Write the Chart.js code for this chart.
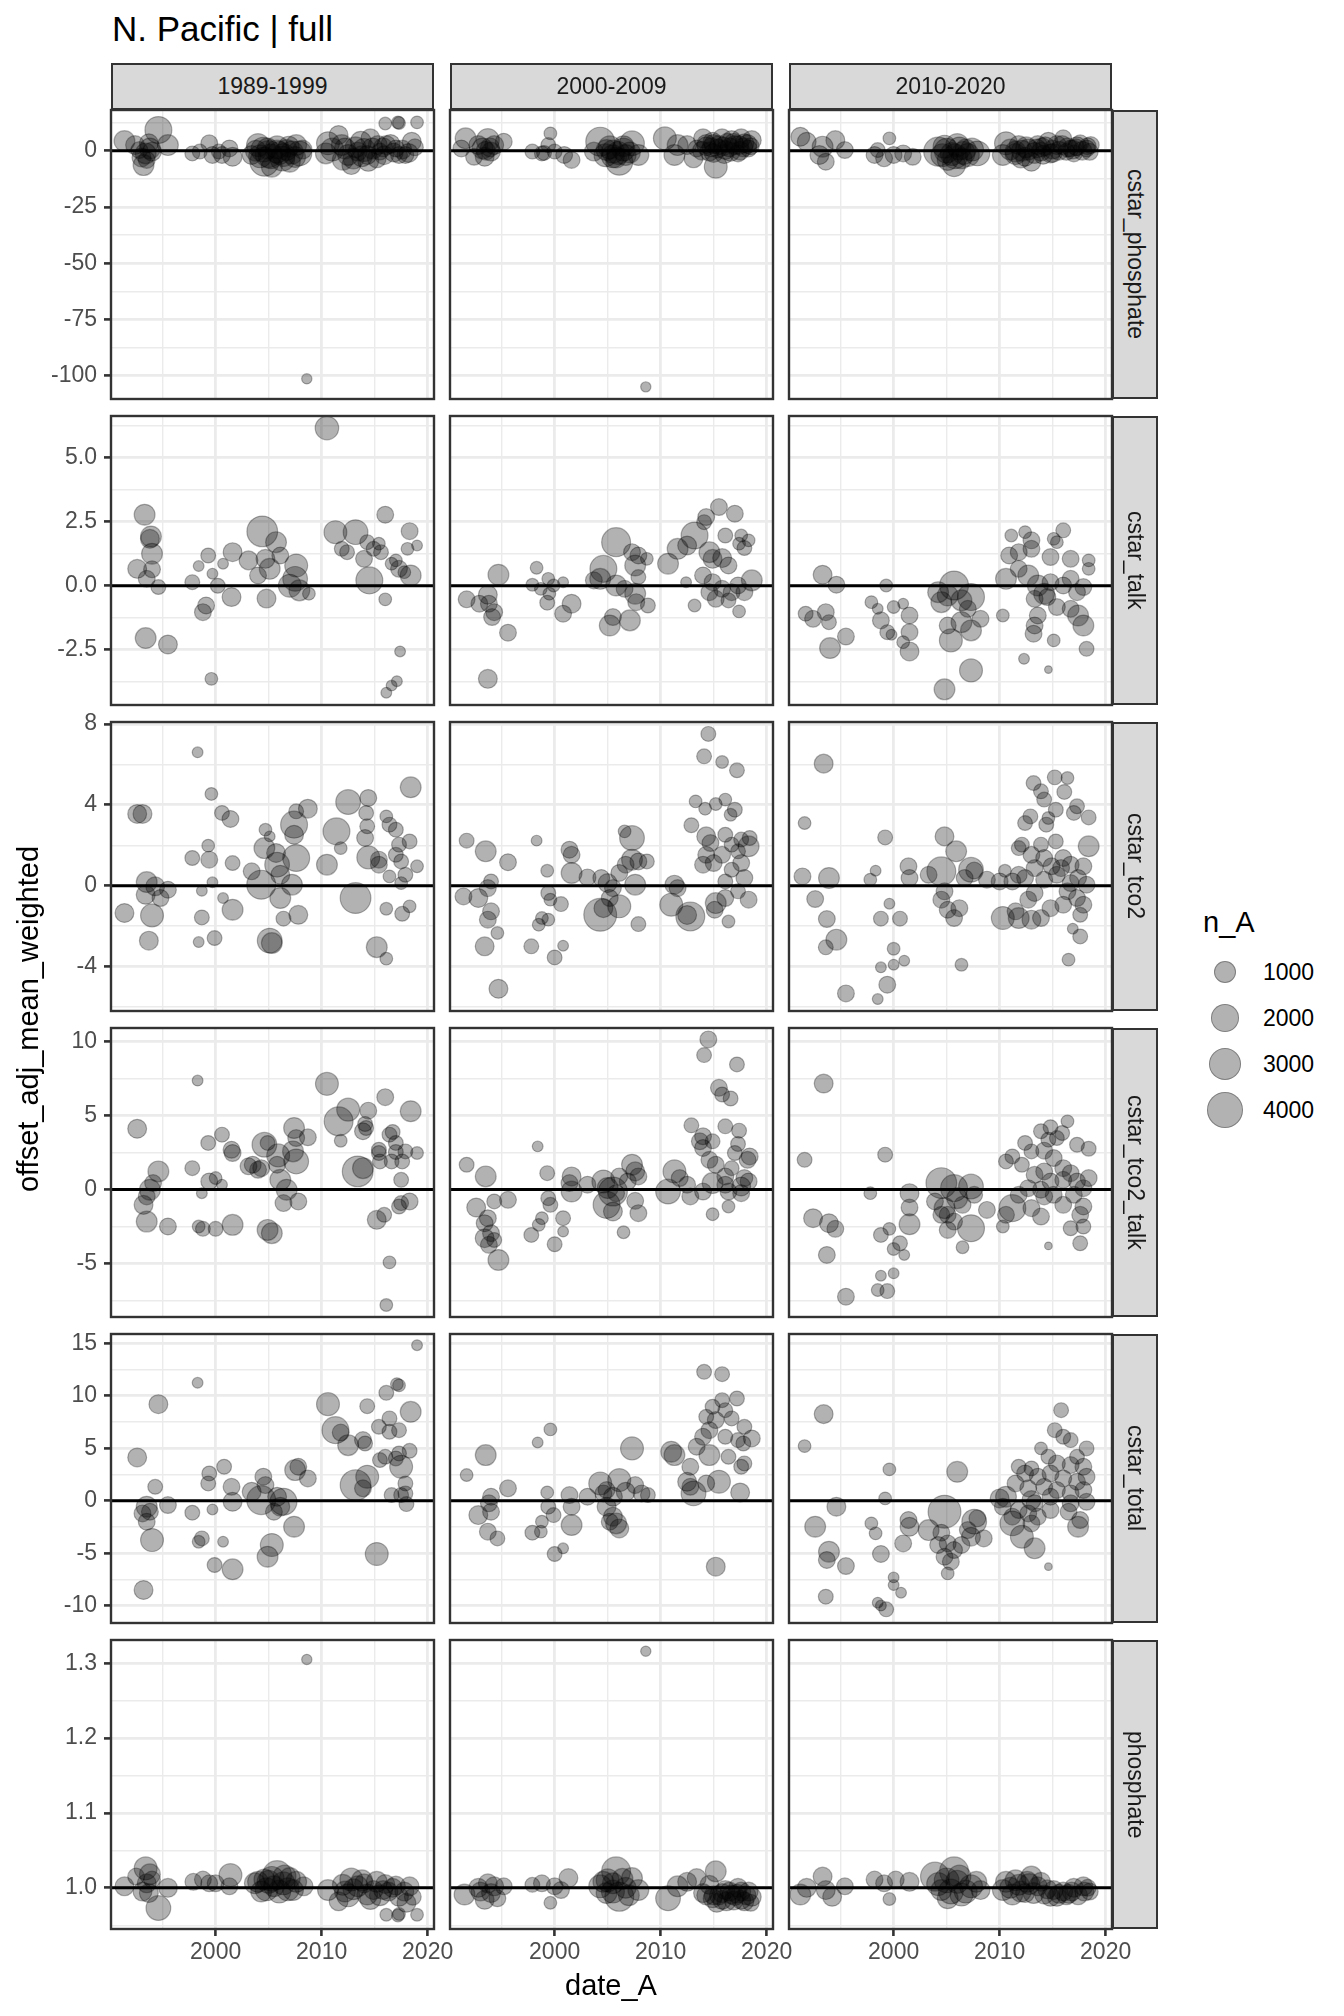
<!DOCTYPE html>
<html><head><meta charset="utf-8">
<script src="https://cdn.jsdelivr.net/npm/chart.js@4.4.1/dist/chart.umd.min.js"></script>
<style>
body{margin:0;background:#fff;width:1344px;height:2016px;position:relative;overflow:hidden;font-family:'Liberation Sans',Arial,sans-serif}
.t{position:absolute;white-space:nowrap}
.strip{position:absolute;box-sizing:border-box;background:#D9D9D9;border:2px solid #333;display:flex;align-items:center;justify-content:center;color:#1A1A1A;font-size:23px}
.vs{writing-mode:vertical-rl}
canvas{position:absolute}
.key{position:absolute;border-radius:50%;box-sizing:border-box;background:rgba(0,0,0,0.3);border:1.3px solid rgba(0,0,0,0.3)}
</style></head><body>
<script>
// ---------- DATA: [date_A, offset_adj_mean_weighted, n_A] ----------
const facetCols = ["1989-1999","2000-2009","2010-2020"];
const facetRows = ["cstar_phosphate","cstar_talk","cstar_tco2","cstar_tco2_talk","cstar_total","phosphate"];

const cstar_phosphate_1989_1999 = [[1991.4,4.3,1000],[1992.4,2.5,750],[1993.7,3.3,750],[1993.4,-1.2,1000],[1993.5,-4.1,530],[1993.2,-6.4,1000],[1994.6,9.2,2000],[1995.5,2.5,1000],[1994.0,-0.4,750],[1992.8,0.3,530],
[1997.8,-1.2,350],[1998.5,-0.4,350],[1999.4,3.3,530],[1999.7,-1.9,530],[2000.6,-1.9,530],[2001.6,-2.7,750],[2001.3,1.0,530],[2000.3,-0.4,350],
[2004.0,2.5,1300],[2004.6,-4.9,2400],[2005.8,-0.4,1300],[2005.3,-7.1,1000],[2006.4,-1.9,1300],[2007.6,2.5,1000],[2007.9,-1.2,1600],[2007.0,-4.9,1000],[2003.4,-1.9,750],[2004.9,1.0,1000],[2006.7,0.3,1000],[2005.2,-2.5,1600],[2006.0,-1.0,1300],
[2004.5,0.5,1600],[2005.0,-1.5,2000],[2005.8,1.5,1300],[2006.3,-3.5,1600],[2007.2,-0.8,1300],[2007.5,-2.8,1000],[2004.2,-2.5,1300],[2006.9,1.8,1000],[2003.8,0.0,1000],[2008.2,0.5,750],
[2008.6,-101.4,80],
[2010.6,3.3,1300],[2011.9,2.5,1000],[2011.6,7.0,750],[2012.5,-1.9,1000],[2012.8,-6.4,750],[2013.7,4.0,1000],[2014.0,0.3,1300],[2014.6,5.5,750],[2015.2,-3.4,750],[2016.1,2.5,750],[2017.0,1.0,530],[2017.9,-1.9,530],[2018.5,4.0,750],[2016.0,12.1,200],[2017.2,12.6,200],[2017.3,12.3,200],[2019.0,12.6,200],[2010.4,-1.2,1000],[2013.4,-0.4,750],[2015.5,-0.4,530],[2017.3,-1.9,530],[2014.3,-1.9,750],[2013.0,-3.5,1000],[2015.8,1.5,750],[2016.8,-0.8,750],
[2011.0,0.5,1300],[2012.2,1.0,1000],[2013.2,1.5,1000],[2013.8,-2.5,1000],[2014.8,1.0,1000],[2015.3,2.5,750],[2015.9,-2.0,750],[2016.5,3.0,750],[2017.6,0.5,750],[2018.2,-1.0,750],[2018.8,1.5,530],[2014.4,-4.5,1000],[2012.0,-4.0,1000],[1993.8,1.0,1000],[1993.0,-3.0,750]];
const cstar_phosphate_2000_2009 = [[1991.6,5.5,1000],[1992.8,2.5,750],[1993.7,4.7,1300],[1994.0,-0.4,750],[1993.4,-2.7,750],[1995.2,4.0,530],[1992.4,-2.7,530],[1991.2,1.0,530],[1993.9,1.5,750],
[1999.6,7.7,200],[1997.9,-0.4,350],[1998.8,-1.2,350],[2000.0,-0.4,350],[2000.9,-1.9,530],[2001.6,-4.1,530],[1999.4,2.5,350],[1999.0,-1.0,350],
[2004.3,4.0,2400],[2005.5,-0.4,1300],[2006.1,-4.9,2000],[2004.9,0.3,1000],[2007.3,3.3,1600],[2007.9,-1.9,1000],[2006.7,-1.9,1000],[2003.7,-0.4,750],[2005.5,-2.5,1300],[2006.5,0.5,1300],
[2004.8,-2.0,1300],[2005.2,1.5,1300],[2006.0,-1.0,1300],[2006.5,2.0,1000],[2007.1,-0.8,1000],[2005.8,-3.0,1000],[1993.2,1.0,1000],[1994.3,2.5,750],[1993.5,0.0,750],
[2008.6,-105,80],
[2010.4,5.5,1300],[2011.6,2.5,1000],[2011.3,-1.9,1000],[2013.1,-3.4,750],[2012.5,2.5,750],[2015.2,-7.1,1300],[2014.0,5.5,750],[2014.9,4.0,750],[2015.8,5.5,750],[2016.7,4.7,750],[2017.6,5.5,750],[2018.6,4.7,750],[2018.3,1.0,530],[2017.3,-1.2,530],[2016.1,0.3,750],[2014.6,-0.4,750],[2015.5,2.5,750],[2013.4,1.0,530],[2017.0,2.5,750],[2017.9,3.3,750],[2015.0,3.0,750],[2016.3,3.5,750],[2014.3,3.0,750],
[2014.3,2.0,750],[2014.8,1.5,750],[2015.4,1.0,750],[2015.9,2.0,750],[2016.5,1.5,750],[2016.9,3.5,750],[2017.4,2.5,750],[2017.8,1.5,750],[2018.2,3.0,750],[2018.5,2.0,530],[2013.9,0.0,750],[2015.0,-1.0,750],[2016.0,-1.5,750],[2016.6,-0.5,750],[2017.5,0.0,750]];
const cstar_phosphate_2010_2020 = [[1991.2,6.2,750],[1991.8,4.0,750],[1993.3,1.8,1000],[1993.0,-1.9,750],[1993.6,-4.9,530],[1994.5,4.7,750],[1995.4,0.3,530],
[1999.6,5.5,200],[1998.2,-1.9,530],[1999.1,-3.4,530],[2000.0,-1.9,530],[2000.9,-1.2,530],[2001.8,-2.7,530],[1998.5,0.3,350],
[2004.2,-0.4,2400],[2004.8,1.8,1300],[2006.0,2.5,1300],[2005.7,-6.4,1300],[2007.0,-1.9,1300],[2007.9,-1.2,1600],[2005.1,-4.1,1000],[2006.4,-3.4,1000],[2005.5,-1.5,1300],[2006.8,0.5,1000],
[2005.0,0.0,1600],[2005.8,-2.5,1600],[2006.6,-1.0,1300],[2007.4,0.5,1300],[2004.6,-2.0,1300],[2006.2,1.0,1300],
[2010.6,3.3,1300],[2010.3,-1.9,1000],[2011.5,-0.4,1000],[2012.4,-2.7,750],[2013.0,-4.9,750],[2013.6,2.5,750],[2014.6,4.0,750],[2015.4,2.5,750],[2016.0,5.5,530],[2016.7,1.0,530],[2017.6,3.3,530],[2018.2,1.0,530],[2014.8,-1.2,750],[2017.0,-1.2,530],[2011.8,2.5,750],[2013.9,-0.4,750],[2012.0,-3.5,750],[2014.0,1.5,750],[2015.0,0.5,750],[2016.3,-0.5,530],[2017.2,1.5,530],[2018.6,2.5,530],[2012.7,0.5,1000],
[2011.0,0.5,1000],[2011.5,-1.5,1000],[2012.1,0.0,1000],[2012.5,1.5,1000],[2013.3,-1.0,1000],[2013.5,1.0,750],[2014.1,-1.8,750],[2014.3,2.0,750],[2015.0,-1.0,750],[2015.6,0.0,750],[2015.9,2.5,750],[2016.4,1.5,750],[2016.9,0.5,750],[2017.3,2.0,750],[2017.8,0.0,750],[2018.3,2.0,530],[2018.5,-0.5,530]];

const cstar_talk_1989_1999 = [[2010.5,6.15,1400],[1993.3,2.77,1000],[1993.9,1.92,1000],[1993.8,1.83,750],[1994.0,1.25,1000],[1992.6,0.66,750],[1994.0,0.64,530],[1993.5,0.27,530],[1994.6,-0.05,350],[1993.4,-2.04,1000],[1995.5,-2.29,750],[1999.6,-3.63,200],
[1997.8,0.14,350],[1998.4,0.77,100],[1999.3,1.18,350],[1999.7,0.47,100],[2000.7,0.86,100],[2000.2,0.0,350],[2001.6,1.31,750],[2001.5,-0.44,750],[1999.1,-0.77,530],[1998.8,-1.03,530],
[2003.1,0.99,750],[2004.4,2.12,2800],[2004.7,1.05,750],[2005.7,1.7,1000],[2005.1,0.66,1000],[2006.1,1.18,530],[2007.6,0.79,1300],[2007.5,0.27,1600],[2007.0,0.0,1300],[2004.8,-0.5,750],[2008.8,-0.31,200],[2007.9,-0.18,1000],[2004.0,0.4,530],
[2011.3,2.09,1300],[2013.2,2.09,1600],[2012.4,1.31,350],[2011.9,1.44,350],[2014.3,1.7,350],[2014.9,1.44,350],[2015.6,1.31,350],[2014.0,1.05,530],[2014.5,0.21,2000],[2016.0,2.77,530],[2018.3,2.13,530],[2019.0,1.57,100],[2018.1,1.44,200],[2017.0,0.99,200],[2017.3,0.66,530],[2018.4,0.4,1000],[2017.8,0.53,200],[2016.0,-0.53,200],[2017.4,-2.56,100],[2017.1,-3.72,100],[2016.6,-3.89,100],[2016.1,-4.17,100],[2016.6,0.86,200],[2015.4,1.64,200]];
const cstar_talk_2000_2009 = [[1993.7,-3.63,750],[1995.6,-1.83,530],[1994.7,0.43,1000],[1991.7,-0.53,530],[1992.9,-0.7,530],[1993.7,-0.35,750],[1993.8,-0.7,530],[1994.3,-1.03,530],[1994.1,-1.22,530],
[1998.3,0.7,200],[1997.9,0.04,200],[1998.7,-0.12,200],[1999.4,0.27,200],[1999.5,-0.31,200],[1999.9,0.01,200],[1999.3,-0.66,350],[2000.8,0.14,100],[2001.6,-0.7,750],[2000.8,-1.09,530],
[2003.7,0.21,530],[2005.8,1.7,2400],[2004.6,0.66,2000],[2004.3,0.27,1000],[2005.8,0.01,1000],[2006.6,-0.12,530],[2007.6,0.79,1000],[2007.3,1.31,530],[2007.9,1.18,530],[2008.7,1.05,200],[2007.9,0.34,350],[2007.6,-0.31,1000],[2007.7,-0.64,530],[2008.8,-0.77,350],[2005.2,-1.55,1000],[2007.1,-1.35,1000],[2005.5,-1.22,530],
[2010.7,0.86,1000],[2011.6,1.44,1000],[2012.5,1.57,750],[2013.2,1.96,2000],[2012.4,0.14,100],[2013.2,-0.77,200],[2014.3,2.68,530],[2015.5,3.07,530],[2017.0,2.81,530],[2014.1,2.48,350],[2016.1,1.96,350],[2017.6,1.96,200],[2018.3,1.77,200],[2017.9,1.47,350],[2017.4,1.64,200],
[2014.6,1.31,1000],[2014.9,1.05,750],[2015.8,1.08,750],[2016.4,0.79,530],[2014.0,0.4,530],[2014.9,0.14,530],[2015.8,-0.12,530],[2014.6,-0.25,530],[2015.2,-0.51,530],[2016.7,-0.25,530],[2017.3,0.01,530],[2018.6,0.21,1000],[2017.9,-0.25,530],[2017.4,-1.0,200],[2016.4,-0.57,350]];
const cstar_talk_2010_2020 = [[1993.3,0.43,750],[1994.6,0.04,530],[1991.7,-1.09,350],[1992.4,-1.29,530],[1993.6,-1.03,530],[1993.9,-1.42,350],[1994.0,-2.43,1000],[1995.5,-1.98,530],[1999.3,0.01,200],
[1997.9,-0.64,200],[1998.5,-0.9,100],[1998.8,-1.35,530],[1999.4,-1.81,350],[1999.8,-1.91,100],[2000.0,-0.83,200],[2000.9,-0.7,100],[2001.5,-1.16,530],[2001.5,-1.81,530],[2001.5,-2.56,750],[2000.9,-2.2,200],
[2004.2,-0.25,1000],[2004.5,-0.64,1000],[2005.7,0.01,2400],[2005.1,-0.38,1000],[2006.4,-0.57,1000],[2007.3,-0.44,2000],[2007.0,-0.9,530],[2005.1,-1.55,530],[2006.4,-1.42,1000],[2007.3,-1.74,1000],[2005.4,-2.13,1300],[2008.2,-1.29,530],[2007.3,-3.3,1300],[2004.8,-4.04,1000],
[2010.3,-1.16,200],[2011.1,1.96,200],[2012.4,2.09,200],[2013.0,1.77,530],[2016.0,2.16,350],[2015.4,1.7,200],[2015.1,1.83,200],
[2010.9,1.18,530],[2011.8,1.31,530],[2013.0,1.44,530],[2014.8,1.12,530],[2016.7,1.05,530],[2018.4,0.99,200],
[2010.6,0.27,1000],[2011.8,0.66,530],[2012.7,0.4,1000],[2013.6,0.01,1000],[2014.2,-0.31,1000],[2014.8,0.14,530],[2016.0,0.01,530],[2016.7,0.27,530],[2017.3,-0.25,530],[2017.9,-0.05,530],[2018.4,0.66,200],
[2013.3,-0.51,530],[2014.5,-0.44,530],[2015.4,-0.83,530],[2016.7,-0.9,530],[2017.4,-1.16,1000],[2017.9,-1.55,1000],
[2013.3,-1.55,530],[2013.2,-1.87,530],[2013.6,-1.16,530],[2015.1,-2.13,200],[2018.2,-2.46,350],[2012.3,-2.85,100],[2014.6,-3.27,10]];

const cstar_tco2_1989_1999 = [[1998.3,6.6,100],[1999.6,4.54,200],[1992.6,3.55,750],[1993.1,3.55,750],[2000.6,3.6,350],[2001.4,3.3,530],[1999.3,1.98,200],[1997.8,1.37,350],[1999.4,1.29,530],[2001.6,1.12,350],[1999.7,0.17,100],
[1993.5,0.18,1000],[1994.3,-0.03,750],[1993.4,-0.45,750],[1995.5,-0.2,530],[1994.8,-0.61,530],[1991.4,-1.35,750],[1994.0,-1.47,1300],[1993.7,-2.72,750],[1998.4,-2.79,100],[1999.9,-2.59,350],
[1998.7,-0.25,100],[2000.7,-0.61,100],[1998.7,-1.57,350],[2001.6,-1.19,1000],
[2004.3,0.05,2400],[2003.4,0.71,530],[2004.6,1.86,1000],[2004.7,2.77,200],[2005.1,2.44,100],[2005.8,1.04,1600],[2006.1,0.54,750],[2005.7,1.62,750],[2007.4,3.02,2000],[2007.6,3.68,350],[2008.7,3.81,750],[2007.4,2.52,750],[2007.6,1.37,2000],[2007.2,0.05,1000],[2006.1,-0.61,1000],
[2005.1,-2.72,1600],[2005.3,-2.84,1000],[2006.4,-1.63,350],[2007.8,-1.44,750],
[2010.5,1.04,1000],[2011.4,2.69,2000],[2011.8,1.86,200],[2012.5,4.14,1600],[2013.2,-0.61,2800],
[2014.4,4.34,530],[2014.2,3.6,350],[2014.3,2.94,350],[2014.1,2.36,530],[2014.4,1.4,1300],[2016.1,3.43,200],[2016.4,3.02,350],[2017.0,2.77,350],[2017.3,2.03,350],[2017.0,1.53,350],[2018.4,4.87,1000],[2018.3,2.19,350],[2017.5,1.2,350],[2019.0,0.96,200],[2016.4,0.46,200],[2017.9,0.54,350],[2017.5,0.13,200],[2015.4,1.29,530],[2015.4,1.04,530],[2016.1,-1.14,200],[2017.6,-1.39,350],[2018.3,-1.02,200],[2015.2,-3.04,1000],[2016.1,-3.61,200]];
const cstar_tco2_2000_2009 = [[2014.5,7.51,350],[2014.1,6.4,350],[2015.8,6.12,200],[2017.2,5.71,350],[2013.3,4.17,200],[2014.2,3.81,200],[2015.2,4.04,200],[2016.1,4.26,200],[2017.0,3.76,350],[2016.6,3.51,200],[2012.9,2.99,350],
[2014.3,2.44,750],[2014.7,2.11,530],[2016.1,2.52,350],[2016.7,2.03,350],[2017.6,2.28,350],[2018.4,2.36,350],[2018.3,1.95,1000],[2017.3,1.7,350],[2014.3,1.53,530],[2015.8,1.53,530],[2014.0,1.04,530],[2015.0,1.12,530],[2017.6,1.12,530],[2016.7,0.79,350],[2017.9,0.38,530],[2016.1,0.21,350],
[2011.3,0.05,750],[2011.6,-0.12,530],[2011.0,-0.94,1300],[2012.8,-1.52,2400],[2012.5,-1.45,750],
[2015.2,-0.86,1000],[2016.1,-0.61,530],[2015.1,-1.19,530],[2016.4,-1.77,200],[2018.3,-0.69,530],[2017.3,-0.28,350],
[1991.7,2.23,350],[1993.5,1.7,1000],[1995.6,1.16,530],[1994.0,0.21,350],[1993.7,-0.12,530],[1991.4,-0.53,530],[1992.8,-0.61,750],[1994.0,-1.27,530],[1993.7,-1.68,530],[1994.6,-2.34,200],[1993.4,-3.0,750],[1994.7,-5.1,750],
[1998.3,2.23,100],[1999.3,0.74,200],[1999.4,-0.36,350],[1999.6,-0.69,200],[2000.6,-0.91,350],[1998.8,-1.6,200],[1998.5,-1.93,200],[1999.4,-1.68,200],[1997.8,-3.0,350],[2000.8,-2.97,100],[2000.0,-3.55,350],
[2001.4,1.78,530],[2001.6,1.53,530],[2001.6,0.63,1000],[2003.1,0.41,530],
[2004.4,0.38,530],[2005.0,0.13,750],[2005.5,-0.12,530],[2004.6,-1.11,750],[2004.3,-1.44,3300],[2006.1,-1.02,1300],[2005.2,-0.61,530],
[2006.6,2.69,200],[2007.3,2.36,1600],[2007.3,1.29,1000],[2007.9,1.2,530],[2008.7,1.2,350],[2006.7,1.04,530],[2007.6,0.05,1000],[2006.1,0.63,530],[2007.9,-1.9,350]];
const cstar_tco2_2010_2020 = [[1993.4,6.04,750],[1991.6,3.1,200],[1991.4,0.46,530],[1993.9,0.38,1000],[1992.6,-0.66,530],[1993.7,-1.65,530],[1994.6,-2.67,1000],[1993.6,-3.05,350],[1995.5,-5.33,530],[1998.5,-5.61,100],[1999.4,-4.9,530],[1998.8,-4.04,100],[2000.0,-3.91,100],[2001.0,-3.71,100],[2000.0,-3.12,200],
[1999.2,2.39,350],[1998.3,0.74,100],[1997.8,0.3,200],[1999.6,-0.89,100],[1998.8,-1.63,350],[2000.6,-1.63,350],
[2001.4,0.96,530],[2001.5,0.38,530],[2003.3,0.54,530],[2004.5,0.71,2400],[2004.8,2.44,750],[2005.9,1.7,1000],[2007.3,0.79,1600],[2007.6,0.75,530],[2008.8,0.3,530],[2006.7,0.38,530],[2004.8,-0.28,530],[2004.5,-0.69,530],[2005.1,-1.19,530],[2005.7,-1.6,530],[2006.2,-1.11,530],[2006.4,-3.91,200],
[2010.5,0.74,200],[2010.0,0.21,530],[2011.2,0.21,530],[2011.8,0.54,530],[2010.3,-1.6,1300],[2011.8,-1.6,1000],[2013.0,-1.68,750],[2011.5,-1.27,530],[2012.7,-0.69,530],[2013.3,-0.36,530],
[2013.2,5.08,350],[2015.2,5.36,350],[2016.4,5.33,200],[2016.1,4.64,350],[2013.9,4.67,350],[2014.2,4.26,350],[2012.4,3.1,350],[2012.9,3.43,350],[2014.4,3.02,350],[2014.6,3.35,200],[2015.3,3.76,350],[2017.3,3.93,350],[2017.0,3.6,350],[2018.4,3.38,350],
[2012.1,2.03,350],[2011.8,1.86,350],[2013.9,2.03,350],[2015.3,2.19,350],[2013.0,1.53,530],[2014.2,1.37,530],[2016.0,1.37,530],[2018.4,1.95,1000],[2013.3,0.87,530],[2014.9,0.96,530],[2015.8,0.87,530],[2016.7,1.04,530],[2017.9,0.96,530],[2012.4,0.38,530],[2014.2,0.3,530],[2015.4,0.54,530],[2016.7,0.13,530],[2017.4,0.38,530],[2018.2,0.05,530],[2016.4,-0.28,530],[2017.3,-0.61,530],[2017.9,-0.94,530],[2017.6,-1.44,350],[2016.0,-0.94,530],[2014.8,-1.11,530],[2013.9,-1.6,530],[2016.9,-2.13,100],[2017.6,-2.51,350],[2016.5,-3.66,200]];

const cstar_tco2_talk_1989_1999 = [[1998.3,7.35,100],[2010.5,7.13,1300],[1992.6,4.1,750],
[2016.0,6.23,530],[2018.4,5.28,1000],[2014.4,5.32,530],[2012.5,5.39,1300],[2011.6,4.6,2400],[2014.1,4.42,350],[2014.2,4.15,350],[2013.9,3.93,530],[2011.8,3.29,200],[2016.7,3.88,350],[2016.4,3.7,350],[2017.0,3.14,350],[2015.4,2.68,350],[2017.0,2.53,350],[2019.0,2.46,200],[2017.9,2.57,350],[2016.6,1.89,350],[2017.6,1.89,350],[2015.4,2.46,350],[2013.9,1.44,1000],[2013.4,1.22,2800],[2017.5,0.65,350],[2015.5,1.89,350],
[1999.3,3.14,350],[2000.6,3.7,350],[2001.6,2.46,530],[2001.5,2.68,530],[1997.8,1.44,350],[2000.0,0.77,200],[1999.4,0.54,530],[2000.6,0.32,100],[1998.7,-0.25,100],
[1994.6,1.22,1000],[1994.1,0.43,530],[1993.8,-0.02,1000],[1993.5,-0.47,530],[1993.2,-1.04,750],[1993.5,-2.17,1000],[1995.5,-2.5,530],
[1998.4,-2.5,200],[1998.8,-2.66,350],[2000.0,-2.66,350],[2001.6,-2.39,1000],[2004.9,-2.73,1000],[2005.3,-2.95,1000],
[2004.6,3.02,1600],[2004.9,3.14,350],[2003.5,1.67,530],[2004.3,1.44,530],[2005.8,1.67,530],[2007.4,4.15,1000],[2007.6,3.47,530],[2008.7,3.52,530],[2007.6,1.89,1600],[2007.3,2.57,1000],[2006.1,0.65,1000],[2006.7,-0.02,1000],[2007.8,-0.81,530],[2006.4,-0.92,530],[2003.1,1.56,530],[2004.0,1.33,530],[2005.9,2.3,1300],
[2015.2,-2.05,750],[2015.9,-1.71,350],[2017.3,-1.15,350],[2018.3,-0.81,530],[2017.5,-0.92,350],[2016.4,-4.92,200],[2016.1,-7.8,200]];
const cstar_tco2_talk_2000_2009 = [[2014.5,10.13,530],[2014.1,9.07,350],[2017.2,8.44,350],[2015.5,6.86,530],[2015.8,6.41,350],[2016.6,6.14,350],
[2012.9,4.33,350],[2016.1,4.26,350],[2017.4,3.97,350],[2014.0,3.59,530],[2013.7,3.25,530],[2014.9,3.25,350],[2017.3,3.07,350],[2014.0,2.8,530],[2017.0,2.46,350],[2018.4,2.23,530],[2018.2,2.0,530],[2014.6,2.0,530],[2015.2,1.67,530],[2016.7,1.44,350],[2016.1,0.88,530],[2017.9,0.77,530],[2014.9,0.43,1000],[2016.1,0.32,530],[2017.6,0.2,750],[2018.3,0.54,530],[2016.4,-0.14,530],[2017.6,-0.25,530],[2016.4,-1.15,200],[2014.9,-1.67,200],
[2011.3,1.22,1300],[2011.8,0.77,530],[2012.5,0.32,530],[2010.7,-0.14,1600],[2012.8,-0.47,530],[2014.0,-0.14,530],
[1991.7,1.67,350],[1993.5,0.88,1000],[1995.6,-0.7,530],[1994.3,-0.81,350],[1992.6,-1.22,750],[1993.7,-1.94,530],[1993.4,-2.28,530],[1994.0,-2.95,530],[1993.4,-3.29,750],[1994.3,-3.41,350],[1993.8,-3.74,530],[1994.7,-4.76,1000],
[1998.4,2.91,100],[1999.3,1.1,350],[1999.4,-0.59,350],[1999.6,-1.04,350],[1998.8,-1.94,200],[1998.5,-2.39,200],[2000.8,-1.94,350],[2000.8,-2.84,100],[1997.8,-3.07,350],[2000.0,-3.7,350],
[2001.6,0.88,750],[2001.4,0.43,530],[2001.6,-0.14,1000],[2003.1,0.32,530],
[2004.6,0.54,1300],[2005.5,-0.14,2400],[2005.0,0.1,1000],[2005.8,-0.25,530],[2007.3,1.67,1000],[2007.6,1.22,750],[2007.9,0.88,530],[2006.1,0.88,530],[2006.9,0.54,530],[2004.9,-1.04,2000],[2005.5,-1.49,750],[2007.6,-0.77,530],[2007.9,-1.6,530],[2006.5,-2.89,200]];
const cstar_tco2_talk_2010_2020 = [[1993.4,7.15,750],[1991.6,2.0,350],[1999.2,2.35,350],[1992.4,-1.94,750],[1993.9,-2.28,750],[1994.5,-2.66,530],[1993.7,-4.42,530],[1995.5,-7.24,530],[1998.5,-6.79,200],[1999.4,-6.86,350],[1998.8,-5.82,100],[2000.0,-5.66,100],
[1997.8,-0.25,200],[1998.8,-3.07,350],[1999.6,-2.66,200],[2000.6,-3.63,350],[2000.0,-4.02,200],[2001.0,-4.42,100],
[2001.5,-0.25,750],[2001.5,-1.22,530],[2001.5,-2.35,1000],
[2004.5,0.43,2800],[2003.9,-0.81,530],[2004.8,-1.26,1000],[2005.7,0.09,2000],[2006.0,-0.59,1000],[2007.3,0.2,1600],[2007.6,-0.36,530],[2006.5,-1.04,530],[2005.1,-1.71,530],[2005.7,-2.17,530],[2007.3,-2.62,2000],[2005.1,-2.73,530],[2006.5,-3.9,200],[2008.8,-1.38,530],[2004.5,-1.71,530],
[2010.3,-2.5,200],[2010.6,-1.71,530],[2011.2,-1.26,2000],[2011.8,-0.36,530],[2013.0,-1.26,530],[2013.9,-1.83,530],[2012.7,0.09,530],
[2010.6,1.89,350],[2011.2,2.23,350],[2012.1,1.67,350],[2013.3,0.99,530],[2012.4,3.14,350],[2013.0,2.57,350],[2013.9,3.93,350],[2014.6,3.36,350],[2015.4,3.47,350],[2016.4,4.6,200],[2014.8,4.2,350],[2015.9,3.81,350],[2017.3,3.02,350],[2018.4,2.75,350],[2014.2,2.62,530],[2015.1,2.12,530],[2016.0,1.44,530],[2016.7,1.1,530],[2014.2,1.22,530],[2014.8,0.54,530],[2016.0,0.65,530],[2017.3,0.54,530],[2018.4,0.77,530],[2017.9,0.09,530],[2013.9,-0.02,530],[2015.1,-0.36,530],[2017.0,-0.36,530],[2016.0,-1.04,530],[2017.9,-1.15,530],[2017.6,-1.71,530],[2016.7,-2.62,350],[2017.9,-2.5,350],[2017.6,-3.63,350],[2014.6,-3.81,10],[2014.2,-0.47,530]];

const cstar_total_1989_1999 = [[2019.0,14.83,100],[1998.3,11.25,100],[1994.6,9.21,750],[1992.6,4.13,750],
[2010.6,9.21,1300],[2011.3,6.73,2000],[2011.8,6.5,530],[2012.5,5.3,1000],[2013.9,5.78,530],[2014.1,5.46,350],[2014.3,9.02,350],[2016.1,10.29,350],[2017.1,11.12,200],[2017.3,11.0,200],[2018.4,8.48,1000],[2016.4,7.85,350],[2016.4,6.58,350],[2015.4,7.05,350],[2017.3,6.73,350],[2016.0,4.19,350],[2015.5,3.88,350],[2017.3,4.51,350],[2018.3,4.76,350],[2017.0,4.03,350],[2017.5,3.24,1300],[2014.3,2.29,1300],[2013.9,1.18,530],[2013.2,1.49,2800],[2017.9,1.65,350],[2017.9,0.7,350],[2016.6,0.54,350],[2017.5,0.54,350],[2018.0,-0.32,350],
[2015.2,-5.08,1300],
[1994.3,1.33,350],[1993.5,-0.57,1000],[1995.5,-0.41,530],[1993.8,-1.05,530],[1993.1,-1.21,530],[1993.5,-2.0,530],[1994.0,-3.75,1300],[1993.2,-8.51,750],
[1997.8,-1.14,350],[1999.7,-0.83,100],[2001.6,-0.1,750],[1999.3,1.65,350],[1999.4,2.6,350],[2000.8,3.24,350],[2001.5,1.33,530],
[1998.7,-3.59,350],[1998.4,-3.91,200],[2000.7,-3.91,100],[1999.9,-6.13,350],[2001.6,-6.54,1000],
[2003.4,0.86,750],[2004.5,2.29,530],[2004.7,1.49,530],[2004.3,0.06,2400],[2005.8,0.38,750],[2006.4,-0.1,2000],[2006.1,-0.57,750],[2005.5,-1.05,530],[2007.5,2.92,1000],[2007.8,3.24,530],[2008.7,2.13,530],[2007.4,-2.48,1000],[2005.3,-4.22,1300],[2004.9,-5.34,1000]];
const cstar_total_2000_2009 = [[2014.1,12.29,350],[2015.8,12.07,350],
[2014.9,8.96,350],[2015.8,9.59,350],[2017.2,9.75,350],[2016.1,8.64,350],[2014.3,8.0,350],[2015.2,7.69,530],[2016.7,7.85,350],[2017.9,7.05,350],[2014.6,6.73,530],[2014.0,6.1,530],[2016.1,6.1,350],[2017.3,5.78,350],[2018.6,5.94,530],[2017.8,5.46,350],[2013.4,5.15,530],[2014.6,4.35,1000],[2016.4,4.19,350],[2017.9,3.56,350],[2017.6,3.24,350],
[2011.0,4.67,1000],[2011.3,4.35,1000],[2012.8,3.24,530],[2012.5,1.81,750],[2012.8,1.33,530],[2014.3,1.65,530],[2015.5,1.81,1300],[2013.1,0.7,1600],[2017.5,0.79,750],
[2015.2,-6.29,750],[2007.3,4.99,1300],[1999.6,6.8,200],[1998.4,5.56,100],
[1993.5,4.35,1000],[1991.7,2.45,200],[1995.6,1.18,530],[1994.0,0.38,530],[1993.8,-0.25,530],[1992.8,-1.37,750],[1994.0,-1.05,530],[1993.7,-2.95,530],[1994.6,-3.59,350],
[1999.3,0.79,200],[1999.4,-0.57,350],[1999.9,-1.37,350],[1998.8,-2.0,200],[1997.9,-3.05,350],[1998.7,-2.95,200],[2000.8,-4.54,100],[2000.0,-5.08,350],
[2001.4,0.54,530],[2001.6,-0.57,530],[2001.6,-2.32,1000],[2003.1,0.38,530],
[2004.3,1.65,1300],[2006.1,1.97,1300],[2004.9,1.02,530],[2004.6,0.7,530],[2005.5,0.38,750],[2006.7,0.86,750],[2007.6,1.49,530],[2008.2,0.7,530],[2008.8,0.54,350],[2004.9,-0.57,750],[2005.5,-1.52,750],[2005.8,-2.16,1000],[2006.1,-2.64,750],[2005.2,-2.0,530]];
const cstar_total_2010_2020 = [[1993.4,8.26,750],[1991.6,5.21,200],[1994.6,-0.57,750],[1992.6,-2.48,1000],[1993.9,-4.86,1000],[1993.7,-5.65,530],[1995.5,-6.23,530],[1993.6,-9.15,350],
[1998.5,-9.72,100],[1999.3,-10.36,350],[1998.8,-10.0,100],[2000.0,-8.04,100],[2000.0,-7.31,100],[2000.7,-8.77,100],
[1999.6,2.99,200],[1999.2,0.22,200],[1997.9,-2.16,200],[1998.3,-3.11,200],[1998.8,-5.08,530],
[2001.4,-1.84,530],[2001.5,-2.48,750],[2000.9,-4.07,530],
[2004.8,-1.05,3300],[2006.0,2.76,1000],[2003.3,-2.8,1000],[2004.5,-3.05,530],[2005.1,-4.07,530],[2005.7,-4.7,530],[2006.4,-4.22,530],[2007.3,-3.43,750],[2007.6,-2.0,1600],[2007.9,-1.68,530],[2007.0,-2.8,530],[2008.5,-3.59,530],[2004.8,-5.34,530],[2005.4,-5.81,530],[2005.1,-6.93,200],[2004.2,-4.22,530],
[2010.6,0.38,1000],[2010.3,-0.57,530],[2011.2,-1.52,530],[2011.8,-0.89,530],[2012.1,-3.43,1300],[2013.3,-4.54,1000],[2013.0,-2.16,530],[2014.6,-6.29,10],[2012.7,-1.21,530],[2013.3,-0.25,530],
[2013.9,4.99,200],[2015.8,8.64,350],[2015.2,6.73,350],[2016.0,6.1,350],[2016.7,5.78,350],[2014.6,4.19,350],[2015.4,3.56,530],[2017.3,4.19,350],[2018.2,4.99,350],[2016.7,3.4,530],[2017.9,3.24,530],[2011.8,3.24,350],[2012.4,2.6,530],[2013.0,3.08,350],[2013.6,2.29,530],[2014.8,2.6,530],[2016.0,2.13,530],[2017.3,1.81,530],[2018.2,2.29,530],[2011.5,1.65,530],[2012.7,1.18,530],[2014.2,1.33,530],[2015.4,1.02,530],[2016.7,0.7,530],[2017.9,1.02,530],[2010.0,0.22,750],[2013.0,0.06,750],[2014.8,0.38,530],[2016.7,-0.25,530],[2018.2,-0.1,530],[2011.2,-2.16,1600],[2013.6,-1.52,530],[2014.8,-0.89,530],[2016.5,-1.05,530],[2017.6,-1.84,530],[2017.4,-2.48,1000]];

const phosphate_1989_1999 = [[1991.4,1.002,750],[1992.5,1.015,530],[1993.4,1.026,1300],[1993.5,1.006,750],[1993.7,0.993,750],[1994.6,0.973,1600],[1995.5,1.0,750],[1994.0,1.011,530],[1997.9,1.008,530],[1998.8,1.011,530],[1999.4,1.006,530],[2000.0,1.006,530],[2001.4,1.017,1300],[2001.3,1.002,530],[2003.7,1.006,1000],[2004.6,1.011,1000],[2005.8,1.017,2400],[2005.5,1.002,1000],[2006.4,1.006,1300],[2007.6,1.008,1000],[2008.3,1.002,750],[2007.0,1.013,1000],[2004.3,0.995,1000],[2008.6,1.305,80],[2010.6,0.997,1000],[2011.6,0.982,750],[2012.8,1.011,1300],[2013.4,1.002,1000],[2014.3,0.991,1000],[2015.2,1.008,1000],[2015.8,0.997,750],[2016.7,1.0,750],[2017.3,0.988,750],[2018.3,1.002,750],[2018.6,0.988,530],[2016.1,0.964,200],[2017.2,0.963,200],[2017.3,0.965,200],[2019.0,0.964,200],[2014.9,0.997,750],[2014.0,1.006,750],[2005.0,1.008,1300],[2006.8,0.998,1300],[2012.2,0.995,1000],[2016.0,1.005,750],
[2004.8,0.998,1300],[2005.3,1.012,1600],[2006.0,0.995,1300],[2006.5,1.015,1300],[2007.3,0.997,1000],[2004.0,1.008,1000],[2012.5,0.99,1300],[2013.0,0.998,1000],[2013.8,1.01,1000],[2014.6,0.985,1000],[2015.5,0.99,1000],[2016.3,0.995,750],[2017.0,1.003,750],[2017.8,0.995,750],[2018.0,0.98,750],[2012.0,1.004,1000],[1993.8,1.018,1000],[1993.1,0.995,750]];
const phosphate_2000_2009 = [[1991.5,0.991,1000],[1992.8,1.0,750],[1993.7,1.006,750],[1994.0,0.993,750],[1993.4,0.984,750],[1995.2,1.002,530],[1994.6,0.986,530],[1997.9,1.004,350],[1998.8,1.006,530],[1999.6,0.98,200],[2000.0,1.002,530],[2001.3,1.013,750],[2000.6,0.997,530],[2004.3,1.002,1300],[2005.8,1.022,2400],[2005.5,1.006,1000],[2006.1,0.988,2400],[2007.3,1.013,1000],[2007.9,0.997,1000],[2004.9,0.993,1000],[2006.7,1.0,1000],[2008.6,1.316,80],[2010.7,0.986,1600],[2011.6,1.002,1000],[2012.5,1.008,750],[2013.4,1.013,750],[2015.2,1.022,1000],[2014.0,0.993,750],[2014.9,0.986,750],[2015.8,0.984,750],[2016.7,0.991,750],[2017.6,0.984,750],[2018.6,0.988,750],[2016.1,0.997,750],[2017.3,1.0,750],[2014.6,1.004,750],[2018.3,0.995,750],[2015.5,0.99,750],[2017.0,0.989,750],
[2015.0,0.99,750],[2015.3,0.98,750],[2015.8,0.993,750],[2016.2,0.982,750],[2016.5,0.995,750],[2016.9,0.983,750],[2017.2,0.992,750],[2017.6,0.995,750],[2017.9,0.982,750],[2018.1,0.99,750],[2018.5,0.98,530],[2014.3,0.99,750],[2005.0,1.01,1300],[2005.5,0.995,1300],[2006.4,1.012,1000],[2007.0,0.99,1000],[2004.6,1.008,1000],[1993.0,0.995,750],[1994.3,1.002,750]];
const phosphate_2010_2020 = [[1991.2,0.991,1000],[1991.8,1.0,750],[1993.3,1.015,750],[1993.6,0.997,750],[1994.2,0.988,750],[1995.4,1.002,530],[1998.2,1.011,530],[1999.6,0.985,200],[1999.1,1.006,530],[2000.2,1.011,530],[2001.5,1.008,750],[2003.9,1.015,2400],[2005.7,1.022,2400],[2004.5,0.997,1000],[2006.4,0.991,1300],[2007.3,1.002,1300],[2008.2,0.997,750],[2005.1,0.986,1000],[2010.3,0.997,1000],[2011.2,0.991,1000],[2011.8,1.004,1000],[2013.0,1.015,1000],[2013.6,1.002,750],[2014.2,0.991,750],[2015.1,0.997,750],[2016.0,0.995,750],[2017.0,1.0,750],[2017.9,1.002,750],[2018.5,0.995,530],[2015.4,0.988,750],[2010.6,1.008,1000],[2012.4,0.993,750],[2006.0,1.008,1300],[2012.8,1.005,1000],[2016.5,0.992,750],
[2011.0,1.0,1000],[2011.5,1.01,1000],[2012.0,0.995,1000],[2012.6,1.008,1000],[2013.2,0.993,1000],[2013.9,1.008,750],[2014.5,0.998,750],[2014.8,0.988,750],[2015.6,0.992,750],[2016.3,0.99,750],[2016.8,0.995,750],[2017.4,0.99,750],[2018.0,0.995,750],[2018.3,1.0,530],[2005.0,1.01,1600],[2005.4,0.995,1600],[2006.2,1.015,1300],[2006.8,0.995,1300],[2004.2,1.005,1300],[2007.8,1.008,1000]];

// reference line per row, y ranges, tick values & labels
const hlineValue = [0,0,0,0,0,1];
const yMin = [-110.4,-4.65,-6.2,-8.61,-11.66,0.945];
const yMax = [18.1,6.62,8.1,10.9,15.9,1.331];
const yMajor = [[-100,-75,-50,-25,0],[-2.5,0,2.5,5],[-4,0,4,8],[-5,0,5,10],[-10,-5,0,5,10,15],[1.0,1.1,1.2,1.3]];
const yMajorLabels = [["-100","-75","-50","-25","0"],["-2.5","0.0","2.5","5.0"],["-4","0","4","8"],["-5","0","5","10"],["-10","-5","0","5","10","15"],["1.0","1.1","1.2","1.3"]];
const yMinor = [[-87.5,-62.5,-37.5,-12.5,12.5],[-3.75,-1.25,1.25,3.75,6.25],[-6,-2,2,6],[-7.5,-2.5,2.5,7.5],[-7.5,-2.5,2.5,7.5,12.5],[0.95,1.05,1.15,1.25]];
const xMin = 1990.13, xMax = 2020.6;
const xMajor = [2000,2010,2020];
const xMajorLabels = ["2000","2010","2020"];
const xMinor = [1995,2005,2015];
const legendBreaks = [1000,2000,3000,4000];

// ---------- LAYOUT ----------
const panelData = [
 [cstar_phosphate_1989_1999,cstar_phosphate_2000_2009,cstar_phosphate_2010_2020],
 [cstar_talk_1989_1999,cstar_talk_2000_2009,cstar_talk_2010_2020],
 [cstar_tco2_1989_1999,cstar_tco2_2000_2009,cstar_tco2_2010_2020],
 [cstar_tco2_talk_1989_1999,cstar_tco2_talk_2000_2009,cstar_tco2_talk_2010_2020],
 [cstar_total_1989_1999,cstar_total_2000_2009,cstar_total_2010_2020],
 [phosphate_1989_1999,phosphate_2000_2009,phosphate_2010_2020]];
const COL_LEFT=[111,450,789], ROW_TOP=[110,416,722,1028,1334,1640], PW=323, PH=289;
const LM=72, BM=60, PAD=26;
const FONT="'Liberation Sans', Arial, sans-serif";
const diam = n => 7.3 + 0.465*Math.sqrt(n);
const near = (a,b)=>Math.abs(a-b)<1e-9;
const isIn = (v,arr)=>arr.some(a=>near(a,v));

function addText(txt, css){const d=document.createElement('div');d.className='t';d.textContent=txt;Object.assign(d.style,css);document.body.appendChild(d);return d;}

const borderPlugin={id:'panelBorder',afterDatasetsDraw(chart){const a=chart.chartArea,ctx=chart.ctx;ctx.save();ctx.strokeStyle='#333333';ctx.lineWidth=2.4;ctx.strokeRect(a.left,a.top,a.right-a.left,a.bottom-a.top);ctx.restore();}};

for(let r=0;r<6;r++){
 for(let c=0;c<3;c++){
  const cv=document.createElement('canvas');
  const w=LM+PW+PAD, h=PAD+PH+BM;
  cv.width=w; cv.height=h;
  cv.style.left=(COL_LEFT[c]-LM)+'px'; cv.style.top=(ROW_TOP[r]-PAD)+'px';
  cv.style.width=w+'px'; cv.style.height=h+'px';
  document.body.appendChild(cv);
  const yTicksAll=[...yMinor[r],...yMajor[r]].sort((a,b)=>a-b);
  const xTicksAll=[...xMinor,...xMajor].sort((a,b)=>a-b);
  const showY=c===0, showX=r===5;
  new Chart(cv,{
   type:'bubble',
   data:{datasets:[
    {type:'line',data:[{x:xMin,y:hlineValue[r]},{x:xMax,y:hlineValue[r]}],borderColor:'#000',borderWidth:3,pointRadius:0,order:0},
    {type:'bubble',data:panelData[r][c].map(p=>({x:p[0],y:p[1],r:Math.max(1,diam(p[2])/2-0.6)})),backgroundColor:'rgba(0,0,0,0.3)',borderColor:'rgba(0,0,0,0.3)',borderWidth:1.2,order:1}
   ]},
   options:{
    responsive:false,animation:false,events:[],devicePixelRatio:1,
    layout:{padding:{top:PAD,right:PAD,left:0,bottom:0}},
    plugins:{legend:{display:false},tooltip:{enabled:false}},
    scales:{
     x:{type:'linear',position:'bottom',min:xMin,max:xMax,bounds:'data',
      afterBuildTicks:s=>{s.ticks=xTicksAll.map(v=>({value:v}));},
      afterFit:s=>{s.height=BM;s.paddingLeft=0;s.paddingRight=0;},
      ticks:{display:showX,autoSkip:false,maxRotation:0,minRotation:0,padding:3,color:'#4D4D4D',font:{size:23,family:FONT},
        callback:v=>{const i=xMajor.findIndex(m=>near(m,v));return i>=0?xMajorLabels[i]:'';}},
      grid:{color:'#EBEBEB',lineWidth:ctx=>(ctx.tick&&isIn(ctx.tick.value,xMajor))?2.8:1.4,drawTicks:showX,tickLength:7,tickWidth:2.6,
        tickColor:ctx=>(ctx.tick&&isIn(ctx.tick.value,xMajor))?'#333333':'rgba(0,0,0,0)'},
      border:{display:false}},
     y:{type:'linear',position:'left',min:yMin[r],max:yMax[r],bounds:'data',
      afterBuildTicks:s=>{s.ticks=yTicksAll.map(v=>({value:v}));},
      afterFit:s=>{s.width=LM;s.paddingTop=0;s.paddingBottom=0;},
      ticks:{display:showY,autoSkip:false,padding:7,color:'#4D4D4D',font:{size:23,family:FONT},
        callback:v=>{const i=yMajor[r].findIndex(m=>near(m,v));return i>=0?yMajorLabels[r][i]:'';}},
      grid:{color:'#EBEBEB',lineWidth:ctx=>(ctx.tick&&isIn(ctx.tick.value,yMajor[r]))?2.8:1.4,drawTicks:showY,tickLength:7,tickWidth:2.6,
        tickColor:ctx=>(ctx.tick&&isIn(ctx.tick.value,yMajor[r]))?'#333333':'rgba(0,0,0,0)'},
      border:{display:false}}
    }
   },
   plugins:[borderPlugin]
  });
 }
}
// strips
facetCols.forEach((t,c)=>{const d=document.createElement('div');d.className='strip';Object.assign(d.style,{left:COL_LEFT[c]+'px',top:'63px',width:PW+'px',height:'47px'});d.textContent=t;document.body.appendChild(d);});
facetRows.forEach((t,r)=>{const d=document.createElement('div');d.className='strip';Object.assign(d.style,{left:(COL_LEFT[2]+PW)+'px',top:ROW_TOP[r]+'px',width:'46px',height:PH+'px'});const s=document.createElement('span');s.className='vs';s.textContent=t;d.appendChild(s);document.body.appendChild(d);});
// titles
addText('N. Pacific | full',{left:'112px',top:'11px',fontSize:'35px',lineHeight:'35px',color:'#000'});
addText('date_A',{left:'511px',top:'1968px',width:'200px',textAlign:'center',fontSize:'29px',lineHeight:'34px',color:'#000'});
addText('offset_adj_mean_weighted',{left:(28-300)+'px',top:(1019-17)+'px',width:'600px',height:'34px',textAlign:'center',fontSize:'29px',lineHeight:'34px',color:'#000',transform:'rotate(-90deg)'});
// legend
addText('n_A',{left:'1203px',top:(922-17)+'px',fontSize:'29px',lineHeight:'34px',color:'#000'});
const legY=[972,1018,1064,1110];
legendBreaks.forEach((n,i)=>{const d=diam(n);const k=document.createElement('div');k.className='key';Object.assign(k.style,{left:(1225-d/2)+'px',top:(legY[i]-d/2)+'px',width:d+'px',height:d+'px'});document.body.appendChild(k);
 addText(String(n),{left:'1263px',top:(legY[i]-14)+'px',fontSize:'23px',lineHeight:'28px',color:'#000'});});
</script>
</body></html>
